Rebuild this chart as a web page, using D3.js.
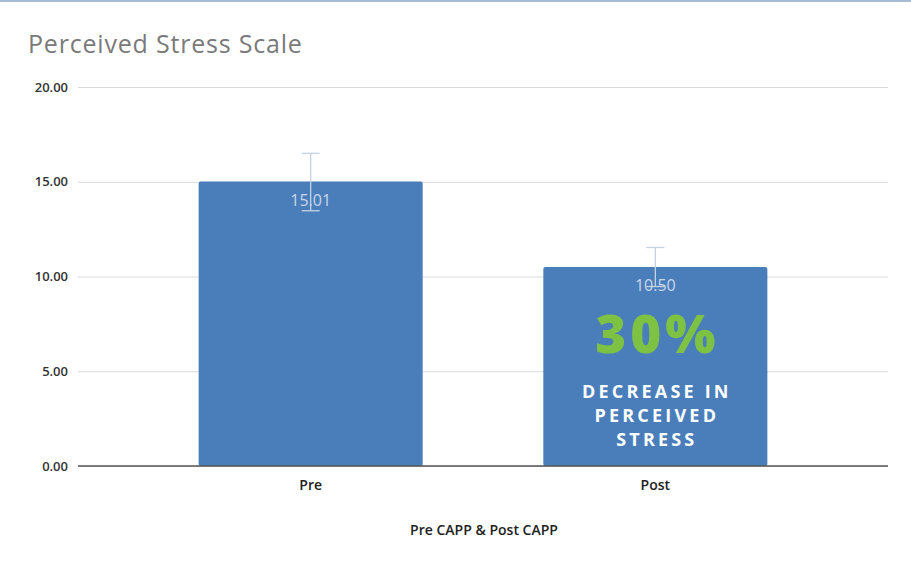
<!DOCTYPE html>
<html>
<head>
<meta charset="utf-8">
<script src="https://cdn.jsdelivr.net/npm/d3@7"></script>
<style>
  body { margin: 0; background: #fff; }
  text { font-family: "Open Sans", sans-serif; }
</style>
</head>
<body>
<svg id="chart" width="911" height="565"></svg>
<script>
var categories = ["Pre", "Post"];
var values = [15.01, 10.50];
var errLow = [13.47, 9.47];
var errHigh = [16.50, 11.53];
var yTicks = [0, 5, 10, 15, 20];
var title = "Perceived Stress Scale";
var xTitle = "Pre CAPP & Post CAPP";
var callout = ["DECREASE IN", "PERCEIVED", "STRESS"];

var svg = d3.select("#chart");
var margin = {top: 87, right: 23, bottom: 99, left: 78};
var width = 911 - margin.left - margin.right;
var height = 565 - margin.top - margin.bottom;

// top frame line
svg.append("rect").attr("x", 0).attr("y", 0).attr("width", 911).attr("height", 2).attr("fill", "#a9bcd6");

svg.append("text")
  .attr("x", 28).attr("y", 53)
  .attr("fill", "#7a7a7a")
  .style("font-size", "25px")
  .style("letter-spacing", "0.8px")
  .text(title);

var g = svg.append("g").attr("transform", "translate(" + margin.left + "," + margin.top + ")");

var x = d3.scaleBand().domain(categories).range([0, width]).padding(0.35);
var y = d3.scaleLinear().domain([0, 20]).range([height, 0]);

// gridlines + y labels
var yAxis = d3.axisLeft(y).tickValues(yTicks).tickSize(-width).tickPadding(10)
  .tickFormat(d3.format(".2f"));
var yG = g.append("g").call(yAxis);
yG.select(".domain").remove();
yG.selectAll(".tick line").attr("stroke", "#d9d9d9");
yG.selectAll(".tick text").attr("fill", "#333").style("font-size", "13px").style("font-weight", "600");

// bars
g.selectAll(".bar").data(values).enter().append("rect")
  .attr("class", "bar")
  .attr("x", function(d, i) { return x(categories[i]); })
  .attr("y", function(d) { return y(d); })
  .attr("width", x.bandwidth())
  .attr("height", function(d) { return y(0) - y(d); })
  .attr("rx", 2)
  .attr("fill", "#4a7ebb");

// error bars
var eb = g.selectAll(".err").data(values).enter().append("g").attr("class", "err")
  .attr("stroke", "#c3d2e4").attr("stroke-width", 1.3);
eb.append("line")
  .attr("x1", function(d, i) { return x(categories[i]) + x.bandwidth() / 2; })
  .attr("x2", function(d, i) { return x(categories[i]) + x.bandwidth() / 2; })
  .attr("y1", function(d, i) { return y(errLow[i]); })
  .attr("y2", function(d, i) { return y(errHigh[i]); });
eb.append("line")
  .attr("x1", function(d, i) { return x(categories[i]) + x.bandwidth() / 2 - 9; })
  .attr("x2", function(d, i) { return x(categories[i]) + x.bandwidth() / 2 + 9; })
  .attr("y1", function(d, i) { return y(errHigh[i]); })
  .attr("y2", function(d, i) { return y(errHigh[i]); });
eb.append("line")
  .attr("x1", function(d, i) { return x(categories[i]) + x.bandwidth() / 2 - 9; })
  .attr("x2", function(d, i) { return x(categories[i]) + x.bandwidth() / 2 + 9; })
  .attr("y1", function(d, i) { return y(errLow[i]); })
  .attr("y2", function(d, i) { return y(errLow[i]); });

// value labels
g.selectAll(".vlabel").data(values).enter().append("text")
  .attr("class", "vlabel")
  .attr("x", function(d, i) { return x(categories[i]) + x.bandwidth() / 2; })
  .attr("y", function(d) { return y(d) + 24; })
  .attr("text-anchor", "middle")
  .attr("fill", "#c9d6e8")
  .style("font-size", "16px")
  .text(function(d) { return d3.format(".2f")(d); });

// baseline
g.append("line").attr("x1", 0).attr("x2", width).attr("y1", y(0)).attr("y2", y(0))
  .attr("stroke", "#555").attr("stroke-width", 1.5);

// x labels
g.selectAll(".xlabel").data(categories).enter().append("text")
  .attr("x", function(d) { return x(d) + x.bandwidth() / 2; })
  .attr("y", height + 24)
  .attr("text-anchor", "middle")
  .attr("fill", "#222")
  .style("font-size", "14px").style("font-weight", "600")
  .text(function(d) { return d; });

svg.append("text")
  .attr("x", 484).attr("y", 535)
  .attr("text-anchor", "middle")
  .attr("fill", "#222")
  .style("font-size", "14px").style("font-weight", "600")
  .text(xTitle);

// callout on Post bar
var cx = x("Post") + x.bandwidth() / 2;
g.append("text")
  .attr("x", cx + 2).attr("y", y(0) - 113)
  .attr("text-anchor", "middle")
  .attr("fill", "#7dc242")
  .style("font-size", "53px").style("font-weight", "800")
  .style("letter-spacing", "4px")
  .text("30%");
g.selectAll(".callout").data(callout).enter().append("text")
  .attr("x", cx + 1.5)
  .attr("y", function(d, i) { return y(0) - 68 + i * 24; })
  .attr("text-anchor", "middle")
  .attr("fill", "#ffffff")
  .style("font-size", "18px").style("font-weight", "700")
  .style("letter-spacing", "3.2px")
  .text(function(d) { return d; });
</script>
</body>
</html>
